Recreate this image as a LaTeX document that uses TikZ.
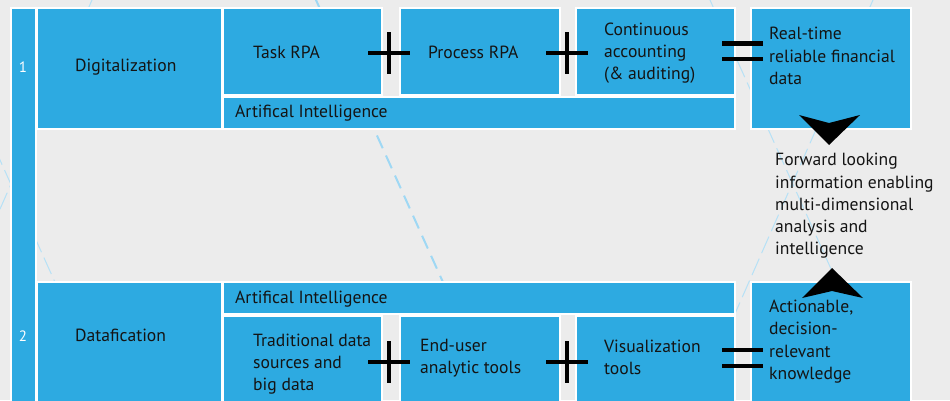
\documentclass[tikz,border=0pt]{standalone}
\usepackage{fontspec}
\setmainfont{PT Sans}
\definecolor{bg}{HTML}{ECECEC}
\definecolor{tilefill}{HTML}{2DAAE1}
\definecolor{ink}{HTML}{141414}
\definecolor{tracecol}{HTML}{9FD8F4}
\definecolor{tracefaint}{HTML}{B6E1F6}

\begin{document}
\begin{tikzpicture}[x=1pt,y=-1pt,
  tile/.style={fill=tilefill,draw=white,line width=1.2pt},
  lbl/.style={text=ink,font=\fontsize{17.6}{22.2}\selectfont,align=left,inner sep=0pt,anchor=west},
  num/.style={text=white,font=\fontsize{15}{16}\selectfont,inner sep=0pt},
  opsign/.style={draw=black,line width=4.2pt},
  tracemain/.style={draw=tracecol,line width=2pt,dash pattern=on 14pt off 8pt},
  tracethin/.style={draw=tracefaint,line width=1pt,dash pattern=on 18pt off 6pt}]

\useasboundingbox (0,0) rectangle (950,400);
\clip (0,0) rectangle (950,400);
\fill[bg] (0,0) rectangle (950,400);

% decorative dashed diagonals in the background
\draw[tracemain] (313.75,-5) -- (496,400);
\draw[tracethin] (707.75,-5) -- (890,400);
\draw[tracethin] (875.2,-5) -- (697,400);
\draw[tracethin] (94.2,-5) -- (-84,400);
\draw[tracethin] (-74.25,-5) -- (108,400);

% side bar with row numbers
\path[tile] (11,8) rectangle (36,410);

% row 1: digitalization
\path[tile] (37,8) rectangle (222,129);
\path[tile] (223,8) rectangle (382,95);
\path[tile] (400,8) rectangle (560,95);
\path[tile] (576,8) rectangle (735,95);
\path[tile] (223,97) rectangle (735,129);
\path[tile] (751,8) rectangle (911,129);

% row 2: datafication
\path[tile] (37,282) rectangle (222,410);
\path[tile] (223,282) rectangle (735,314);
\path[tile] (223,316) rectangle (382,410);
\path[tile] (400,316) rectangle (560,410);
\path[tile] (576,316) rectangle (735,410);
\path[tile] (751,282) rectangle (911,410);

% labels, row 1
\node[num] (n1) at (23,67) {1};
\node[lbl] (dig) at (75,67) {Digitalization};
\node[lbl] (task) at (253,52) {Task RPA};
\node[lbl] (proc) at (428,52) {Process RPA};
\node[lbl] (cont) at (604,53) {Continuous\\accounting\\(\& auditing)};
\node[lbl] (ai1) at (235,113) {Artifical Intelligence};
\node[lbl] (real) at (769,56) {Real-time\\reliable financial\\data};

% centre text
\node[lbl] (fwd) at (775,206) {Forward looking\\information enabling\\multi-dimensional\\analysis and\\intelligence};

% labels, row 2
\node[num] (n2) at (23,336) {2};
\node[lbl] (data) at (75,335) {Datafication};
\node[lbl] (ai2) at (235,299) {Artifical Intelligence};
\node[lbl] (trad) at (253,364) {Traditional data\\sources and\\big data};
\node[lbl] (enduser) at (420,358) {End-user\\analytic tools};
\node[lbl] (vis) at (604,357.5) {Visualization\\tools};
\node[lbl] (act) at (769,341.5) {Actionable,\\decision-\\relevant\\knowledge};

% plus and equals signs
\draw[opsign] (368,53) -- (410,53) (389,32) -- (389,74);
\draw[opsign] (546,53) -- (588,53) (567,32) -- (567,74);
\draw[opsign] (722,43.5) -- (763,43.5) (722,59) -- (763,59);
\draw[opsign] (368,362) -- (410,362) (389,341) -- (389,383);
\draw[opsign] (546,362) -- (588,362) (567,341) -- (567,383);
\draw[opsign] (722,350) -- (763,350) (722,366) -- (763,366);

% arrowheads pointing at the centre text
\fill[black] (799,115) -- (829,123) -- (860,115) -- (829,145) -- cycle;
\fill[black] (802,298) -- (832,291) -- (863,298) -- (832,268) -- cycle;
\end{tikzpicture}
\end{document}
